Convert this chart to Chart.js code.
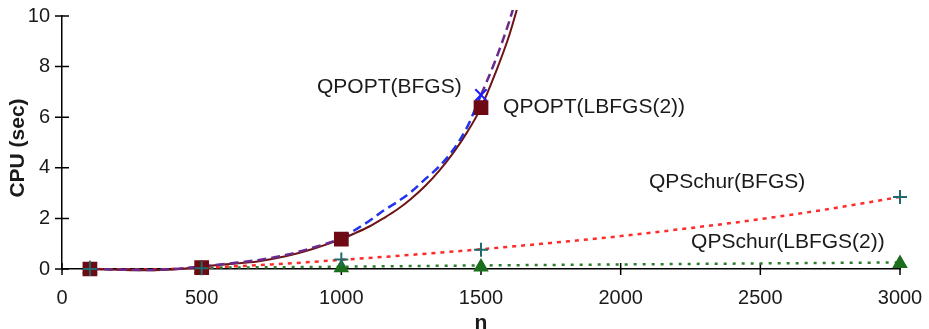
<!DOCTYPE html>
<html>
<head>
<meta charset="utf-8">
<script src="https://cdn.jsdelivr.net/npm/chart.js@4/dist/chart.umd.min.js"></script>
<style>
html, body { margin: 0; padding: 0; background: #fff; }
#wrap { width: 929px; height: 329px; position: relative; }
</style>
</head>
<body>
<div id="wrap"><canvas id="chart"></canvas></div>
<script>
// problem sizes
const nValues = [100, 500, 1000, 1500, 3000];

// measured CPU times (sec)
const qpoptBfgs = [0, 0.05, 1.22, 6.88];
const qpoptLbfgs = [0, 0.05, 1.18, 6.38];
const qpschurBfgs = [0, 0.03, 0.38, 0.76, 2.85];
const qpschurLbfgs = [0, 0.01, 0.05, 0.08, 0.22];

// curves
const trendN = [100, 200, 300, 400, 500, 600, 700, 800, 900, 1000, 1050, 1100, 1150, 1200, 1250, 1300, 1350, 1400, 1450, 1500, 1550, 1600, 1650];
const bfgsTrend = [0, -0.02, -0.04, 0, 0.1, 0.22, 0.35, 0.55, 0.85, 1.22, 1.55, 1.9, 2.3, 2.65, 3.05, 3.55, 4.05, 4.7, 5.6, 6.88, 8.2, 9.75, 11.6];
const lbfgsTrend = [0, -0.03, -0.05, -0.02, 0.1, 0.2, 0.3, 0.5, 0.8, 1.18, 1.42, 1.68, 2.0, 2.35, 2.78, 3.28, 3.88, 4.58, 5.4, 6.38, 7.7, 9.2, 11.1];

const schurTrendN = [100, 300, 500, 750, 1000, 1250, 1500, 1750, 2000, 2250, 2500, 2750, 3000];
const schurBfgsTrend = [0, -0.02, 0.05, 0.18, 0.36, 0.56, 0.78, 1.03, 1.3, 1.62, 1.97, 2.38, 2.85];
const schurLbfgsN = [500, 1000, 1500, 2000, 2500, 3000];
const schurLbfgsLine = [0.05, 0.09, 0.14, 0.18, 0.22, 0.26];

const xTicks = [0, 500, 1000, 1500, 2000, 2500, 3000];
const yTicks = [0, 2, 4, 6, 8, 10];
const seriesNames = ['QPOPT(BFGS)', 'QPOPT(LBFGS(2))', 'QPSchur(BFGS)', 'QPSchur(LBFGS(2))'];

const FONT = "'Liberation Sans', Arial, sans-serif";

const pts = (xs, ys) => ys.map((v, i) => ({ x: xs[i], y: v }));

// ticks crossing both axes
const axisTicks = {
  id: 'axisTicks',
  beforeDatasetsDraw(chart) {
    const { ctx, scales: { x, y } } = chart;
    ctx.save();
    ctx.strokeStyle = '#000';
    ctx.lineWidth = 1.5;
    ctx.beginPath();
    xTicks.forEach(v => {
      const px = x.getPixelForValue(v);
      ctx.moveTo(px, y.bottom - 6);
      ctx.lineTo(px, y.bottom + 6);
    });
    yTicks.forEach(v => {
      const py = y.getPixelForValue(v);
      ctx.moveTo(x.left - 7, py);
      ctx.lineTo(x.left + 7, py);
    });
    ctx.stroke();
    ctx.restore();
  }
};

// series names next to the curves, axis titles
const textLabels = {
  id: 'textLabels',
  afterDraw(chart) {
    const { ctx, scales: { x, y } } = chart;
    const anchors = [[913, 7.19], [1579, 6.4], [2101, 3.44], [2252, 1.07]];
    ctx.save();
    ctx.fillStyle = '#1a1a1a';
    ctx.font = '21px ' + FONT;
    ctx.textAlign = 'left';
    ctx.textBaseline = 'middle';
    seriesNames.forEach((name, i) => {
      ctx.fillText(name, x.getPixelForValue(anchors[i][0]), y.getPixelForValue(anchors[i][1]));
    });

    ctx.font = 'bold 21px ' + FONT;
    ctx.textAlign = 'center';
    ctx.textBaseline = 'alphabetic';
    ctx.fillText('n', (x.left + x.right) / 2, 329);

    ctx.translate(18, 148);
    ctx.rotate(-Math.PI / 2);
    ctx.textBaseline = 'middle';
    ctx.fillText('CPU (sec)', 0, 0);
    ctx.restore();
  }
};

const lineSet = (data, color, dash, width, order) => ({
  data, borderColor: color, borderDash: dash, borderWidth: width,
  pointRadius: 0, showLine: true, cubicInterpolationMode: 'monotone',
  fill: false, order, clip: 6
});

const markerSet = (data, style, radius, color, fillColor, order) => ({
  data, pointStyle: style, pointRadius: radius, borderColor: color,
  backgroundColor: fillColor, pointBorderWidth: 2, showLine: false, order, clip: false
});

// BFGS curve: blue between the measured points at 1000 and 1500, purple elsewhere
const bfgsLine = lineSet(pts(trendN, bfgsTrend), '#6a2a8c', [9, 5], 2.5, 5);
bfgsLine.segment = {
  borderColor: c => (c.p0.parsed.x >= 1000 && c.p1.parsed.x <= 1500) ? '#2233ee' : '#6a2a8c'
};

new Chart(document.getElementById('chart'), {
  type: 'scatter',
  data: {
    datasets: [
      lineSet(pts(schurLbfgsN, schurLbfgsLine), '#2b7d2b', [3, 6], 2.5, 9),
      lineSet(pts(schurTrendN, schurBfgsTrend), '#ff2a2a', [4, 5], 2.5, 8),
      lineSet(pts(trendN, lbfgsTrend), '#6e1414', [], 2, 7),
      bfgsLine,
      markerSet(pts(nValues, qpschurLbfgs), 'triangle', 7, '#1b6e1b', '#1b6e1b', 4),
      markerSet(pts(nValues, qpoptBfgs), 'crossRot', 8, '#1a1aff', '#1a1aff', 3),
      markerSet(pts(nValues, qpoptLbfgs), 'rect', 9, '#6e0a14', '#6e0a14', 2),
      markerSet(pts(nValues, qpschurBfgs), 'cross', 7, '#1f6b6b', '#1f6b6b', 1)
    ]
  },
  options: {
    responsive: true,
    maintainAspectRatio: false,
    animation: false,
    layout: { padding: { top: 16, right: 29, bottom: 0, left: 0 } },
    plugins: { legend: { display: false }, tooltip: { enabled: false } },
    scales: {
      x: {
        type: 'linear', min: 0, max: 3000,
        afterBuildTicks: s => { s.ticks = xTicks.map(v => ({ value: v })); },
        afterFit: s => { s.height = 60; s.paddingLeft = 0; s.paddingRight = 0; },
        grid: { display: false, drawTicks: false, tickLength: 0 },
        border: { display: true, color: '#000', width: 1.5 },
        ticks: { padding: 17, color: '#1a1a1a', font: { family: FONT, size: 20 }, callback: v => String(v) }
      },
      y: {
        type: 'linear', min: 0, max: 10,
        afterBuildTicks: s => { s.ticks = yTicks.map(v => ({ value: v })); },
        afterFit: s => { s.width = 62; s.paddingTop = 0; s.paddingBottom = 0; },
        grid: { display: false, drawTicks: false, tickLength: 0 },
        border: { display: true, color: '#000', width: 1.5 },
        ticks: { padding: 12, color: '#1a1a1a', font: { family: FONT, size: 20 }, callback: v => String(v) }
      }
    }
  },
  plugins: [axisTicks, textLabels]
});
</script>
</body>
</html>
